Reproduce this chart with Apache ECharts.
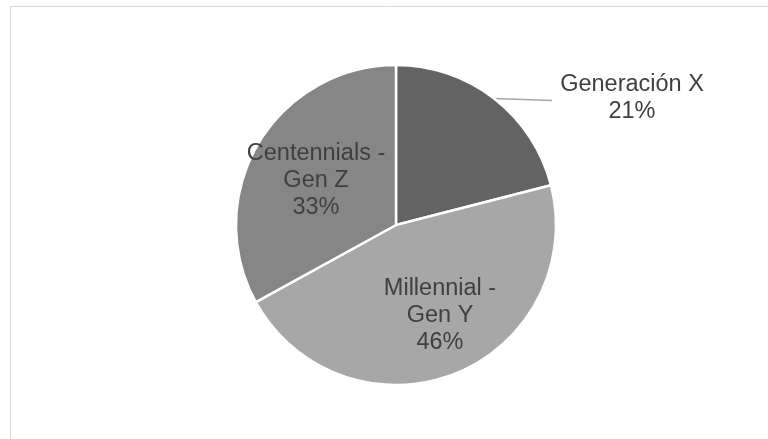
<!DOCTYPE html>
<html>
<head>
<meta charset="utf-8">
<script src="https://cdn.jsdelivr.net/npm/echarts@6/dist/echarts.min.js"></script>
<style>
html,body{margin:0;padding:0;background:#fff;}
#chart{width:768px;height:439px;}
</style>
</head>
<body>
<div id="chart"></div>
<script>
// Data
const categories = ['Generación X', 'Millennial -\nGen Y', 'Centennials -\nGen Z'];
const values = [21, 46, 33];
const sliceColors = ['#636363', '#a7a7a7', '#868686'];

// Label placement (styles, not data)
const labelCenters = [[632, 98], [440, 316], [316, 181]];

const chart = echarts.init(document.getElementById('chart'), null, {renderer: 'canvas'});

const data = categories.map((name, i) => ({
  name: name,
  value: values[i],
  itemStyle: { color: sliceColors[i] },
  label: i === 0 ? { position: 'outside' } : { position: 'inside' },
  labelLine: { show: i === 0 }
}));

chart.setOption({
  animation: false,
  backgroundColor: '#ffffff',
  graphic: [{
    type: 'rect',
    shape: { x: 10.5, y: 6.5, width: 770, height: 450 },
    style: { fill: 'none', stroke: '#d9d9d9', lineWidth: 1 },
    silent: true
  }],
  series: [{
    type: 'pie',
    center: [396, 225],
    radius: [0, 160],
    startAngle: 90,
    clockwise: true,
    avoidLabelOverlap: false,
    itemStyle: { borderColor: '#ffffff', borderWidth: 2.5 },
    label: {
      show: true,
      formatter: function (p) { return p.name + '\n' + p.percent.toFixed(0) + '%'; },
      fontFamily: 'Liberation Sans, Arial, sans-serif',
      fontSize: 23.5,
      lineHeight: 27,
      color: '#404040',
      align: 'center'
    },
    labelLine: {
      length: 5,
      length2: 40,
      lineStyle: { color: '#a6a6a6', width: 1.5 }
    },
    labelLayout: function (params) {
      const c = labelCenters[params.dataIndex];
      const out = { x: c[0], y: c[1], align: 'center', verticalAlign: 'middle' };
      if (params.dataIndex === 0 && params.labelLinePoints) {
        const start = params.labelLinePoints[0];
        const leftEdge = c[0] - params.labelRect.width / 2;
        out.labelLinePoints = [start, [leftEdge - 8, start[1] + 2]];
      }
      return out;
    },
    data: data
  }]
});
</script>
</body>
</html>
